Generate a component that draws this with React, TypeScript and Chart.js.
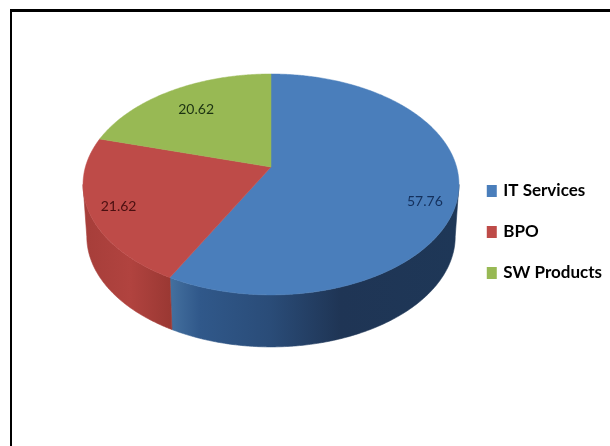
import { useEffect, useRef } from "react";
import { Chart, registerables } from "chart.js";

Chart.register(...registerables);

const categories = ["IT Services", "BPO", "SW Products"];
const shares = [57.76, 21.62, 20.62];
const shareLabels = ["57.76", "21.62", "20.62"];
const faceColors = ["#4a7ebb", "#be4b48", "#98b954"];
const labelColors = ["#14305c", "#4a0f10", "#1c3312"];

// Where each value label sits: fraction of the radius, and turn from the slice's middle.
const labelRadius = [0.845, 0.85, 0.73];
const labelTurn = [0.12, -0.015, 0];

// Horizontal shading of the visible rim, one stop list per slice.
const rimStops: [number, string][][] = [
  [
    [170, "#44709f"],
    [200, "#30588a"],
    [270, "#2a4c78"],
    [340, "#1f3555"],
    [458, "#1e3757"],
  ],
  [
    [84, "#a63e3a"],
    [130, "#b1433f"],
    [171, "#9a3833"],
  ],
  [[0, "#7a9440"]],
];

// Perspective of the tilted disc: unit circle (u, v) to pixels around the hub.
const hub = { x: 271, y: 167 };
const spreadX = 185.6;
const spreadY = 107.7;
const foreshorten = -0.158;
const rimDepth = 52;
const lowerRimScale = 0.98;

// Angles at which the disc outline is widest; the rim only shows between them.
const rimStart = Math.asin(-foreshorten);
const rimEnd = Math.PI - rimStart;

function project(angle: number, radius = 1, scale = 1, drop = 0) {
  const u = Math.cos(angle) * radius;
  const v = Math.sin(angle) * radius;
  const w = 1 + foreshorten * v;
  return {
    x: hub.x + (spreadX * scale * u) / w,
    y: hub.y + (spreadY * v) / w + drop,
  };
}

const STEP = Math.PI / 360;

const tiltedPie = {
  id: "tiltedPie",
  beforeDatasetsDraw(chart: Chart) {
    const { ctx } = chart;
    const arcs = chart.getDatasetMeta(0).data as any[];

    // Rim first, only the front of the disc shows it.
    arcs.forEach((arc, i) => {
      const from = Math.max(arc.startAngle, rimStart);
      const to = Math.min(arc.endAngle, rimEnd);
      if (to <= from) return;
      const stops = rimStops[i];
      const g = ctx.createLinearGradient(stops[0][0], 0, stops[stops.length - 1][0], 0);
      const span = stops[stops.length - 1][0] - stops[0][0] || 1;
      stops.forEach(([x, c]) => g.addColorStop((x - stops[0][0]) / span, c));
      ctx.beginPath();
      for (let a = from; a < to; a += STEP) {
        const p = project(a);
        ctx.lineTo(p.x, p.y);
      }
      const end = project(to);
      ctx.lineTo(end.x, end.y);
      for (let a = to; a > from; a -= STEP) {
        const p = project(a, 1, lowerRimScale, rimDepth);
        ctx.lineTo(p.x, p.y);
      }
      const low = project(from, 1, lowerRimScale, rimDepth);
      ctx.lineTo(low.x, low.y);
      ctx.closePath();
      ctx.fillStyle = g;
      ctx.strokeStyle = g;
      ctx.lineWidth = 0.6;
      ctx.fill();
      ctx.stroke();
    });

    // Top face of each slice.
    arcs.forEach((arc, i) => {
      ctx.beginPath();
      ctx.moveTo(hub.x, hub.y);
      for (let a = arc.startAngle; a < arc.endAngle; a += STEP) {
        const p = project(a);
        ctx.lineTo(p.x, p.y);
      }
      const end = project(arc.endAngle);
      ctx.lineTo(end.x, end.y);
      ctx.closePath();
      ctx.fillStyle = faceColors[i];
      ctx.strokeStyle = faceColors[i];
      ctx.lineWidth = 0.5;
      ctx.fill();
      ctx.stroke();
    });

    return false;
  },
  // Returning false above also skips afterDatasetsDraw, so labels go here.
  afterDraw(chart: Chart) {
    const { ctx } = chart;
    const arcs = chart.getDatasetMeta(0).data as any[];
    ctx.save();
    ctx.font = "14px Lato";
    ctx.textAlign = "center";
    ctx.textBaseline = "middle";
    arcs.forEach((arc, i) => {
      const mid = (arc.startAngle + arc.endAngle) / 2 + labelTurn[i];
      const p = project(mid, labelRadius[i]);
      ctx.fillStyle = labelColors[i];
      ctx.fillText(shareLabels[i], p.x, p.y);
    });
    ctx.restore();
  },
};

// Heavy frame along the top and left edges of the slide.
const frame = {
  id: "frame",
  beforeDraw(chart: Chart) {
    const { ctx } = chart;
    ctx.save();
    ctx.fillStyle = "#000";
    ctx.fillRect(10, 9, 600, 3);
    ctx.fillRect(10, 9, 2, 437);
    ctx.restore();
  },
};

export default function App() {
  const ref = useRef<HTMLCanvasElement>(null);

  useEffect(() => {
    const chart = new Chart(ref.current!, {
      type: "pie",
      data: {
        labels: categories,
        datasets: [{ data: shares, backgroundColor: faceColors, borderWidth: 0 }],
      },
      options: {
        responsive: false,
        animation: false,
        layout: { padding: { top: 18, right: -2 } },
        plugins: {
          title: { display: false },
          tooltip: { enabled: false },
          legend: {
            position: "right",
            labels: {
              boxWidth: 6,
              boxHeight: 8,
              padding: 24,
              color: "#111",
              font: { family: "Lato", weight: "bold", size: 17 },
              // A thick outline in the fill colour keeps the swatch close to its text.
              generateLabels: () =>
                categories.map((text, i) => ({
                  text,
                  index: i,
                  fillStyle: faceColors[i],
                  strokeStyle: faceColors[i],
                  lineWidth: 4,
                  hidden: false,
                })),
            },
          },
        },
      },
      plugins: [frame, tiltedPie],
    });
    return () => chart.destroy();
  }, []);

  return (
    <div style={{ position: "absolute", left: 0, top: 0, width: 610, height: 446, background: "#fff" }}>
      <canvas ref={ref} width={610} height={446} style={{ display: "block" }} />
    </div>
  );
}
